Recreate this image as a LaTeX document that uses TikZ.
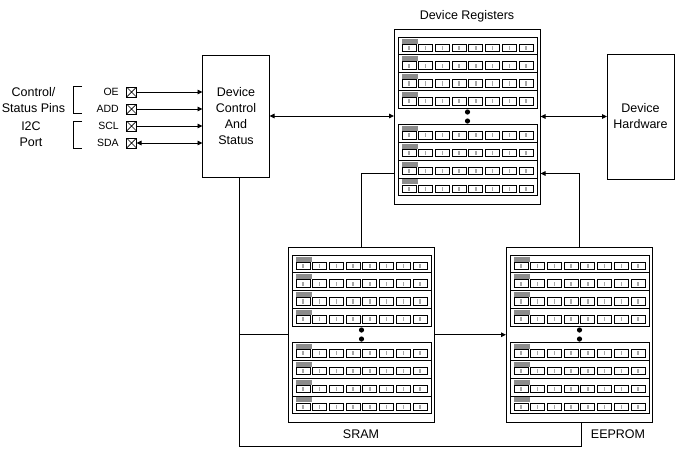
\documentclass[tikz,border=0pt]{standalone}
\usepackage{fontspec}
\setmainfont{Liberation Sans}
\usetikzlibrary{arrows.meta, positioning}

\tikzset{
	regbank/.pic={
		\foreach \g in {8,95.5}
		\foreach \r in {0,...,3} {
			\begin{scope}[shift={(4.5,\g+\r*17.8)}, line width=0.7pt]
				\draw (0,0) rectangle (138.5,17.8);
				\fill[black!45] (3.5,1.5) rectangle (19.5,6.5);
				\foreach \k in {0,...,7} {
					\draw (3.5+\k*16.7,7) rectangle ++(14,7.5);
					\fill[black!35] (9.8+\k*16.7,8.7) rectangle ++(1.4,4.2);
				}
			\end{scope}
		}
		\fill (73.5,83) circle (2.6pt) (73.5,92) circle (2.6pt);
	}
}

\begin{document}
\begin{tikzpicture}[x=1pt,y=-1pt,line width=0.9pt,>={Triangle[length=5pt,width=4.5pt]},
	node distance=17pt,on grid,
	every node/.style={font=\fontsize{12.5}{16}\selectfont},
	block/.style={draw,align=center,inner sep=0pt,outer sep=0pt,anchor=north west},
	membox/.style={block,minimum width=146.5pt,minimum height=175.5pt},
	pinname/.style={font=\fontsize{10.5}{12}\selectfont,label distance=4pt},
	pinbox/.style={draw,inner sep=0pt,outer sep=0pt,minimum size=10pt,line width=0.7pt,
		path picture={\draw (path picture bounding box.north west) -- (path picture bounding box.south east)
			(path picture bounding box.south west) -- (path picture bounding box.north east);}}]
	\useasboundingbox (0,0) rectangle (676,448);
	
	\node (ctrl) [block, minimum width=67pt, minimum height=122pt] at (202.5,55) {Device\\Control\\And\\Status};
	\node (hw) [block, minimum width=67pt, minimum height=125pt] at (607,54) {Device\\Hardware};
	\node (regs) [membox] at (394,29) {};
	\node (sram) [membox] at (288,247) {};
	\node (eeprom) [membox] at (506,247) {};
	\pic at (regs.north west) {regbank};
	\pic at (sram.north west) {regbank};
	\pic at (eeprom.north west) {regbank};
	
	\node (reglab) [anchor=base] at (467,19) {Device Registers};
	\node (sramlab) at (361,434) {SRAM};
	\node (eelab) at (618,434) {EEPROM};
	
	\node (pOE) [pinbox, label={[pinname]left:OE}] at (131.5,92) {};
	\node (pADD) [pinbox, below=of pOE, label={[pinname]left:ADD}] {};
	\node (pSCL) [pinbox, below=of pADD, label={[pinname]left:SCL}] {};
	\node (pSDA) [pinbox, below=of pSCL, label={[pinname]left:SDA}] {};
	
	\node (grpctl) [align=center] at (33.5,100) {Control/\\Status Pins};
	\node (grpi2c) [align=center] at (31,134.5) {I2C\\Port};
	\draw (82,86) -- (73,86) -- (73,113) -- (82,113);
	\draw (82,121) -- (73,121) -- (73,148) -- (82,148);
	
	\draw [->] (pOE) -- (pOE -| ctrl.west);
	\draw [->] (pADD) -- (pADD -| ctrl.west);
	\draw [->] (pSCL) -- (pSCL -| ctrl.west);
	\draw [<->] (pSDA) -- (pSDA -| ctrl.west);
	
	\draw [<->] (ctrl.east) -- (ctrl.east -| regs.west);
	\draw [<->] (hw.west -| regs.east) -- (hw.west);
	\draw (sram.north) |- ([yshift=31pt]regs.south west);
	\draw [->] (eeprom.north) |- ([yshift=31pt]regs.south east);
	
	\coordinate (drop) at ([xshift=3pt]ctrl.south);
	\coordinate (ret) at ([xshift=2pt]eeprom.south);
	\draw (drop) -- (drop |- 0,446) -| (ret);
	\draw (sram.west) -- (sram.west -| drop);
	\draw [->] (sram.east) -- (eeprom.west);
\end{tikzpicture}
\end{document}
